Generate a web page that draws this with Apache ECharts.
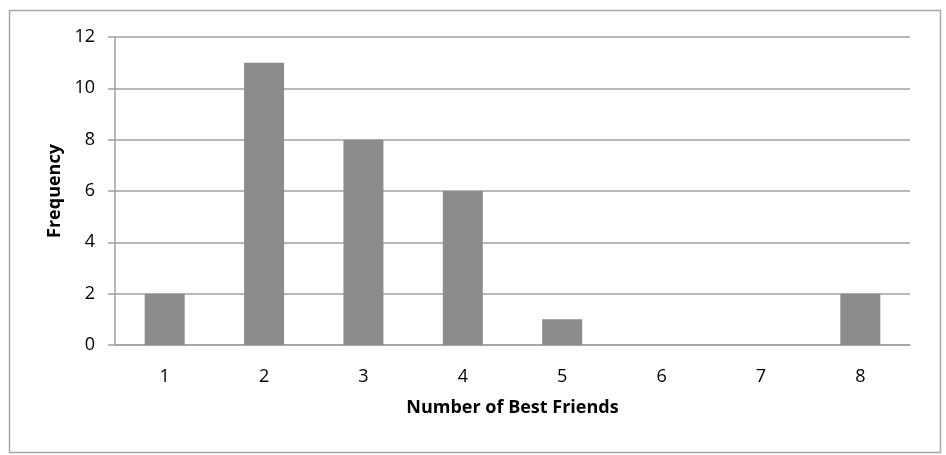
<!DOCTYPE html>
<html><head><meta charset="utf-8">
<script src="https://cdn.jsdelivr.net/npm/echarts@6/dist/echarts.min.js"></script>
<style>html,body{margin:0;padding:0;background:#fff}#c{width:946px;height:455px}</style>
</head><body><div id="c"></div>
<script>
const categories = ['1','2','3','4','5','6','7','8'];
const frequency = [2, 11, 8, 6, 1, 0, 0, 2];
const yTicks = {min: 0, max: 12, interval: 2};
const xTitle = 'Number of Best Friends';
const yTitle = 'Frequency';

const chart = echarts.init(document.getElementById('c'), null, {renderer: 'canvas'});
const font = '"Open Sans", "Liberation Sans", sans-serif';
chart.setOption({
  animation: false,
  backgroundColor: '#fff',
  graphic: [{
    type: 'rect', left: 7, top: 8,
    shape: {x: 0, y: 0, width: 931, height: 442},
    style: {fill: 'none', stroke: '#a6a6a6', lineWidth: 1.5}
  }],
  grid: {left: 115, right: 36, top: 37, bottom: 110},
  xAxis: {
    type: 'category', data: categories,
    name: xTitle, nameLocation: 'middle', nameGap: 54,
    nameTextStyle: {fontFamily: font, fontSize: 18, fontWeight: 'bold', color: '#000'},
    axisLine: {lineStyle: {color: '#a0a0a0', width: 1.5}},
    axisTick: {show: false},
    axisLabel: {fontFamily: font, fontSize: 18, color: '#000', margin: 23}
  },
  yAxis: {
    type: 'value', min: yTicks.min, max: yTicks.max, interval: yTicks.interval,
    name: yTitle, nameLocation: 'middle', nameGap: 51, nameRotate: 90,
    nameTextStyle: {fontFamily: font, fontSize: 18, fontWeight: 'bold', color: '#000'},
    axisLine: {show: true, lineStyle: {color: '#a0a0a0', width: 1.5}},
    axisTick: {show: true, length: 7, lineStyle: {color: '#a0a0a0', width: 1.5}},
    axisLabel: {fontFamily: font, fontSize: 18, color: '#000', margin: 20},
    splitLine: {lineStyle: {color: '#a0a0a0', width: 1.5}}
  },
  series: [{
    type: 'bar', data: frequency, barWidth: 40,
    itemStyle: {color: '#8c8c8c'}
  }]
});
</script></body></html>
